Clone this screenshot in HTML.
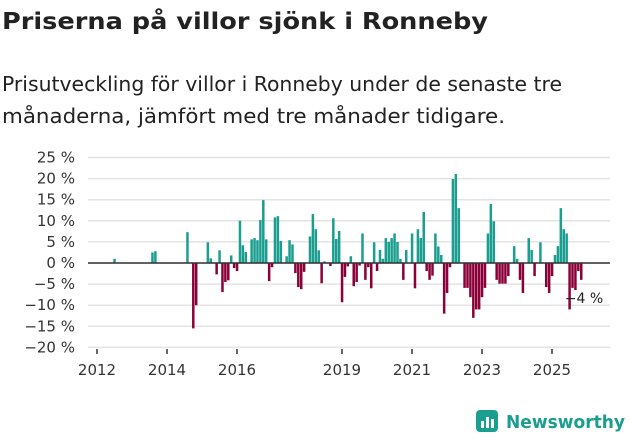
<!DOCTYPE html>
<html><head><meta charset="utf-8"><style>
body{margin:0;background:#fff;width:631px;height:439px;overflow:hidden;font-family:"DejaVu Sans",sans-serif;}
</style></head><body>
<svg width="631" height="439" xmlns="http://www.w3.org/2000/svg">
<text x="2" y="29" font-size="23" font-weight="bold" fill="#222" textLength="486" lengthAdjust="spacingAndGlyphs" font-family="DejaVu Sans, sans-serif">Priserna på villor sjönk i Ronneby</text>
<text x="2" y="91" font-size="20" fill="#222" textLength="560" lengthAdjust="spacingAndGlyphs" font-family="DejaVu Sans, sans-serif">Prisutveckling för villor i Ronneby under de senaste tre</text>
<text x="2" y="123" font-size="20" fill="#222" textLength="503" lengthAdjust="spacingAndGlyphs" font-family="DejaVu Sans, sans-serif">månaderna, jämfört med tre månader tidigare.</text>
<g id="grid"></g><g id="bars"></g><g id="axes"></g>
<g>
<rect x="476" y="410" width="22" height="22" rx="4" fill="#1a9e8f"/>
<rect x="481" y="421" width="3" height="7" fill="#fff"/>
<rect x="486" y="417" width="3" height="11" fill="#fff"/>
<rect x="491" y="419" width="3" height="9" fill="#fff"/>
<text x="506" y="428" font-size="18" font-weight="bold" fill="#1a9e8f" textLength="119" lengthAdjust="spacingAndGlyphs" font-family="DejaVu Sans, sans-serif">Newsworthy</text>
</g>
</svg>
<script>
const months=[5,18,19,30,32,33,37,38,40,41,42,43,44,45,46,47,48,49,50,52,53,54,55,56,57,58,59,60,61,62,64,65,66,67,68,69,70,72,73,74,75,76,77,79,80,81,82,83,84,85,86,87,88,89,90,91,92,93,94,95,96,97,98,99,100,101,102,103,104,105,107,108,109,110,111,112,113,114,115,116,117,118,119,120,121,122,123,125,126,127,128,129,130,131,132,133,134,135,136,137,138,139,140,142,143,144,145,147,148,149,151,153,154,155,156,157,158,159,160,161,162,163,164,165];
const values=[1,2.5,2.8,7.3,-15.5,-10,4.9,1.1,-2.7,3,-6.9,-4.5,-4.1,1.8,-1.2,-1.9,10,4.2,2.6,5.6,5.9,5.4,10.2,14.9,5.6,-4.3,-1,10.8,11.1,5.2,1.6,5.4,4.4,-2.4,-5.7,-6.2,-2.1,6.3,11.6,8,3,-4.8,0.4,-0.7,10.6,5.7,7.6,-9.3,-3.3,-0.8,1.6,-5.5,-4.5,-0.6,7,-4,-1,-6,4.9,-1.9,3.1,1,5.9,5,5.9,7,5,1,-4,3.1,7,-6,8,5.9,12.1,-1.9,-4,-3,7,3.9,1.9,-12,-7.1,-1,19.9,21.1,13,-5.9,-5.9,-8.1,-13,-11,-11,-8.1,-5.9,7,14,9.9,-4,-4.9,-4.9,-4.9,-3.1,4,1,-4,-7.1,5.9,3.1,-3.1,4.9,-5.7,-7.1,-3.1,1.9,4,13,8,7,-11,-5.9,-6.4,-1.9,-4];
const yTicks=[25,20,15,10,5,0,-5,-10,-15,-20];
const xTickYears=[2012,2014,2016,2019,2021,2023,2025];
const lastLabel="−4 %";
const NS="http://www.w3.org/2000/svg";
const y=v=>263-v*4.22;
const xm=m=>98.7+m*2.917;
const xy=yr=>97+(yr-2012)*35;
function mk(tag,attrs,parent){const e=document.createElementNS(NS,tag);for(const k in attrs)e.setAttribute(k,attrs[k]);document.getElementById(parent).appendChild(e);return e;}
yTicks.forEach(t=>{
 const l=mk('line',{x1:88,x2:610,y1:y(t),y2:y(t),stroke:'#e3e3e3','stroke-width':1.5},'grid');
 
 
 const tx=mk('text',{x:75,y:y(t)+5,'text-anchor':'end','font-size':15,fill:'#333','font-family':'DejaVu Sans, sans-serif'},'axes');
 tx.textContent=(t<0?'−'+(-t):t)+' %';
 
 
});
months.forEach((m,i)=>{
 const v=values[i];
 const r=mk('rect',{x:xm(m),width:2.5,y:Math.min(y(v),y(0)),height:Math.abs(y(v)-y(0)),fill:v>=0?'#1a9e8f':'#8b0039'},'bars');
 
 
});
const z=mk('line',{x1:88,x2:610,y1:y(0),y2:y(0),stroke:'#333','stroke-width':1.5},'axes');


xTickYears.forEach(yr=>{
 const tk=mk('line',{x1:xy(yr),x2:xy(yr),y1:349,y2:354,stroke:'#333','stroke-width':1.5},'axes');
 
 
 const tx=mk('text',{x:xy(yr),y:375,'text-anchor':'middle','font-size':15,fill:'#333','font-family':'DejaVu Sans, sans-serif'},'axes');
 tx.textContent=yr;
 
 
});
const lm=months[months.length-1];
const lb=mk('text',{x:xm(lm)+4,y:303,'text-anchor':'middle','font-size':14,fill:'#222','font-family':'DejaVu Sans, sans-serif'},'axes');
lb.textContent=lastLabel;


</script>
</body></html>
